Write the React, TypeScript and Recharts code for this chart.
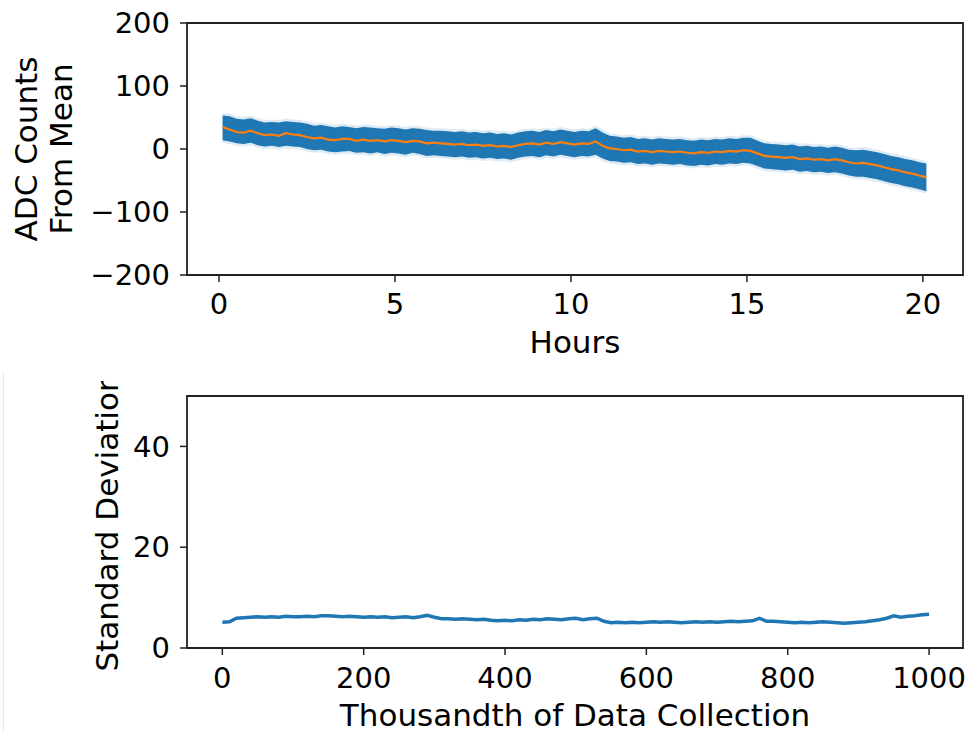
import { ComposedChart, LineChart, Line, Area, XAxis, YAxis, ReferenceArea, Label } from "recharts";

// Top panel: raw ADC counts (blue band) and running mean (orange), sampled every 0.2 h from 0.1 h
const meanCounts = [
  35, 31, 27, 26, 29, 25, 22, 23, 21, 25,
  23, 22, 19, 17, 18, 15, 14, 16, 16, 13,
  15, 13, 14, 12, 14, 13, 11, 13, 12, 9,
  10, 9, 8, 7, 8, 6, 7, 5, 6, 4,
  5, 3, 6, 8, 9, 7, 10, 8, 11, 9,
  7, 9, 8, 12, 5, 1, 0, -2, -1, -4,
  -3, -5, -3, -4, -5, -4, -6, -7, -5, -6,
  -4, -5, -3, -4, -2, -3, -7, -11, -12, -13,
  -14, -13, -16, -15, -17, -16, -18, -16, -18, -21,
  -23, -22, -24, -26, -29, -32, -34, -37, -39, -42,
  -45,
];
const bandUpper = [
  53, 52, 48, 47, 49, 45, 42, 43, 42, 44,
  43, 42, 40, 37, 38, 36, 34, 36, 35, 33,
  35, 34, 33, 32, 34, 33, 31, 33, 32, 30,
  29, 29, 28, 27, 28, 26, 27, 25, 26, 24,
  25, 23, 26, 28, 29, 27, 30, 28, 31, 29,
  27, 29, 28, 33, 26, 21, 20, 18, 19, 16,
  17, 15, 17, 16, 15, 16, 14, 13, 15, 14,
  16, 15, 17, 16, 18, 18, 13, 9, 8, 7,
  6, 7, 4, 5, 3, 4, 2, 4, 2, -1,
  -2, -1, -3, -5, -8, -11, -13, -16, -18, -21,
  -23,
];
const bandLower = [
  14, 12, 9, 8, 10, 6, 4, 5, 3, 5,
  4, 3, 0, -2, -1, -4, -5, -4, -3, -6,
  -5, -7, -5, -8, -6, -7, -9, -6, -8, -11,
  -10, -11, -12, -13, -12, -14, -13, -15, -14, -16,
  -15, -17, -14, -12, -11, -13, -10, -12, -9, -11,
  -13, -11, -12, -9, -15, -19, -20, -22, -21, -24,
  -23, -25, -23, -24, -25, -24, -26, -27, -25, -26,
  -24, -25, -23, -24, -22, -23, -27, -31, -32, -33,
  -34, -33, -36, -35, -37, -36, -38, -37, -39, -42,
  -44, -44, -46, -48, -51, -54, -56, -59, -61, -64,
  -67,
];
const hourTicks = [0, 5, 10, 15, 20];
const countTicks = [-200, -100, 0, 100, 200];

// Bottom panel: standard deviation, every 10th thousandth
const stdDev = [
  5.1, 5.2, 5.9, 6.0, 6.1, 6.2, 6.1, 6.2, 6.1, 6.3,
  6.2, 6.2, 6.3, 6.2, 6.4, 6.4, 6.3, 6.2, 6.3, 6.2,
  6.1, 6.2, 6.1, 6.2, 6.0, 6.1, 6.2, 6.0, 6.2, 6.5,
  6.1, 5.8, 5.8, 5.7, 5.8, 5.7, 5.6, 5.7, 5.5, 5.4,
  5.5, 5.4, 5.6, 5.5, 5.7, 5.6, 5.8, 5.7, 5.6, 5.8,
  5.9, 5.6, 5.8, 5.9, 5.3, 5.0, 5.1, 5.0, 5.1, 5.0,
  5.1, 5.2, 5.1, 5.2, 5.1, 5.0, 5.1, 5.2, 5.1, 5.2,
  5.1, 5.2, 5.3, 5.2, 5.3, 5.4, 5.9, 5.3, 5.3, 5.2,
  5.1, 5.0, 5.1, 5.0, 5.1, 5.2, 5.1, 5.0, 4.9, 5.0,
  5.1, 5.2, 5.4, 5.6, 5.9, 6.4, 6.1, 6.3, 6.4, 6.6,
  6.7,
];
const thousandthTicks = [0, 200, 400, 600, 800, 1000];
const stdTicks = [0, 20, 40];

const topData = meanCounts.map((m, i) => ({
  h: 0.1 + i * 0.2,
  mean: m,
  band: [bandLower[i], bandUpper[i]],
}));
const bottomData = stdDev.map((s, i) => ({ t: i * 10, sd: s }));

const FONT = "DejaVu Sans";
const INK = "#222";
const BLUE = "#1f77b4";
const ORANGE = "#ff7f0e";
const tickStyle = { fill: "#000", fontSize: 29, fontFamily: FONT };
const fmt = (v: number) => (v < 0 ? "\u2212" + Math.abs(v) : String(v));

export default function App() {
  return (
    <div style={{ position: "absolute", left: 0, top: 0, width: 969, height: 732, background: "#fff", overflow: "hidden" }}>
      <div style={{ position: "absolute", left: 0, top: 0 }}>
        <ComposedChart width={969} height={370} data={topData} margin={{ top: 23, right: 6, bottom: 0, left: 0 }}>
          <XAxis
            dataKey="h"
            type="number"
            domain={[-0.91, 21.14]}
            allowDataOverflow
            ticks={hourTicks}
            axisLine={false}
            tickLine={{ stroke: INK, strokeWidth: 1.5 }}
            tickSize={7}
            tickMargin={11}
            tick={tickStyle}
            height={95}
          >
            <Label
              content={(p: any) => {
                const vb = p.viewBox ?? { x: 187, y: 275, width: 776 };
                return (
                  <text x={vb.x + vb.width / 2} y={vb.y + 78} textAnchor="middle" fontSize={31} fontFamily={FONT} fill="#000">
                    Hours
                  </text>
                );
              }}
            />
          </XAxis>
          <YAxis
            type="number"
            domain={[-200, 200]}
            ticks={countTicks}
            tickFormatter={fmt}
            axisLine={false}
            tickLine={{ stroke: INK, strokeWidth: 1.5 }}
            tickSize={7}
            tickMargin={10}
            tick={tickStyle}
            width={187}
          >
            <Label
              content={(p: any) => {
                const vb = p.viewBox ?? { x: 0, y: 23, width: 187, height: 252 };
                const cy = vb.y + vb.height / 2;
                return (
                  <g fontSize={31} fontFamily={FONT} fill="#000">
                    <text x={37} y={cy} textAnchor="middle" transform={`rotate(-90 37 ${cy})`}>ADC Counts</text>
                    <text x={72} y={cy} textAnchor="middle" transform={`rotate(-90 72 ${cy})`}>From Mean</text>
                  </g>
                );
              }}
            />
          </YAxis>
          <Area
            dataKey="band"
            type="linear"
            fill={BLUE}
            fillOpacity={1}
            stroke={BLUE}
            strokeOpacity={0.15}
            strokeWidth={5}
            isAnimationActive={false}
          />
          <Line dataKey="mean" type="linear" stroke={ORANGE} strokeWidth={2.2} dot={false} isAnimationActive={false} />
          <ReferenceArea x1={-0.91} x2={21.14} y1={-200} y2={200} fill="none" stroke={INK} strokeWidth={1.8} />
        </ComposedChart>
      </div>

      <div style={{ position: "absolute", left: 3, top: 372, width: 1, height: 360, background: "#e8e8e8" }} />

      <div style={{ position: "absolute", left: 0, top: 381 }}>
        <LineChart width={969} height={351} data={bottomData} margin={{ top: 15, right: 6, bottom: 0, left: 0 }}>
          <XAxis
            dataKey="t"
            type="number"
            domain={[-50, 1048]}
            allowDataOverflow
            ticks={thousandthTicks}
            axisLine={false}
            tickLine={{ stroke: INK, strokeWidth: 1.5 }}
            tickSize={7}
            tickMargin={12}
            tick={tickStyle}
            height={84}
          >
            <Label
              content={(p: any) => {
                const vb = p.viewBox ?? { x: 187, y: 267, width: 776 };
                return (
                  <text x={vb.x + vb.width / 2} y={vb.y + 78} textAnchor="middle" fontSize={31} fontFamily={FONT} fill="#000">
                    Thousandth of Data Collection
                  </text>
                );
              }}
            />
          </XAxis>
          <YAxis
            type="number"
            domain={[0, 50]}
            ticks={stdTicks}
            axisLine={false}
            tickLine={{ stroke: INK, strokeWidth: 1.5 }}
            tickSize={7}
            tickMargin={10}
            tick={tickStyle}
            width={187}
          >
            <Label
              content={(p: any) => {
                const vb = p.viewBox ?? { x: 0, y: 15, width: 187, height: 252 };
                const cy = vb.y + vb.height / 2;
                return (
                  <text x={118} y={cy} textAnchor="middle" fontSize={31} fontFamily={FONT} fill="#000" transform={`rotate(-90 118 ${cy})`}>
                    Standard Deviation
                  </text>
                );
              }}
            />
          </YAxis>
          <Line dataKey="sd" type="linear" stroke={BLUE} strokeWidth={3.5} dot={false} isAnimationActive={false} />
          <ReferenceArea x1={-50} x2={1048} y1={0} y2={50} fill="none" stroke={INK} strokeWidth={1.8} />
        </LineChart>
      </div>
    </div>
  );
}
